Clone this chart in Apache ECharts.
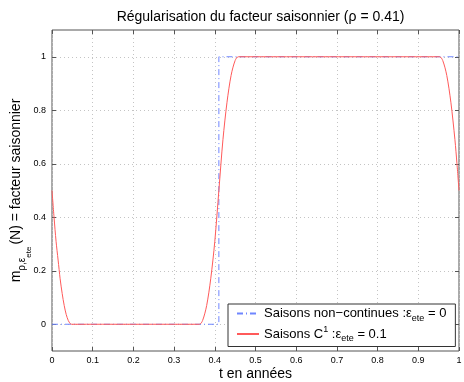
<!DOCTYPE html>
<html>
<head>
<meta charset="utf-8">
<script src="https://cdn.jsdelivr.net/npm/echarts@6/dist/echarts.min.js"></script>
<style>
  html, body { margin: 0; padding: 0; background: #fff; }
  #chart { width: 464px; height: 382px; }
</style>
</head>
<body>
<div id="chart"></div>
<script>
// discontinuous seasons (eps_ete = 0): step at rho = 0.41
const stepT = [0, 0.41, 0.41, 1]
const stepY = [0, 0, 1, 1]

// C1 seasons (eps_ete = 0.1)
const smoothT = [0, 0.005, 0.01, 0.015, 0.02, 0.025, 0.03, 0.035, 0.04, 0.045, 0.048,
  0.362, 0.37, 0.38, 0.39, 0.40, 0.41, 0.42, 0.43, 0.44, 0.45, 0.458,
  0.952, 0.96, 0.97, 0.98, 0.99, 0.995, 1]
const smoothY = [0.5, 0.4, 0.31, 0.24, 0.17, 0.115, 0.07, 0.036, 0.014, 0.002, 0,
  0, 0.014, 0.07, 0.17, 0.31, 0.5, 0.69, 0.83, 0.93, 0.986, 1,
  1, 0.986, 0.93, 0.83, 0.69, 0.6, 0.5]

const xTicks = [0, 0.1, 0.2, 0.3, 0.4, 0.5, 0.6, 0.7, 0.8, 0.9, 1]
const yTicks = [0, 0.2, 0.4, 0.6, 0.8, 1]

const font = '"Liberation Sans", Arial, sans-serif'

const chart = echarts.init(document.getElementById('chart'), null, { renderer: 'canvas' })

const gridLine = { show: true, lineStyle: { color: '#c4c4c4', type: [1, 3], width: 1 } }
const tick = { show: true, inside: true, length: 4, lineStyle: { color: '#555' } }
const noLine = { show: false, onZero: false }
const fmt = v => String(Math.round(v * 10) / 10)

chart.setOption({
  animation: false,
  title: {
    text: 'Régularisation du facteur saisonnier (ρ = 0.41)',
    left: 255.5,
    textAlign: 'center',
    top: 5,
    textStyle: { fontFamily: font, fontSize: 14, fontWeight: 'normal', color: '#000' }
  },
  grid: {
    left: 52, right: 5, top: 30, bottom: 31,
    outerBoundsMode: 'none',
    containLabel: false,
    show: true, borderColor: '#555', borderWidth: 1, backgroundColor: '#fff'
  },
  legend: {
    orient: 'vertical',
    left: 228,
    top: 304,
    backgroundColor: '#fff',
    borderColor: '#333',
    borderWidth: 1,
    borderRadius: 0,
    padding: [3, 9, 3, 8],
    itemGap: 2,
    itemWidth: 22,
    itemHeight: 10,
    itemStyle: { opacity: 0 },
    data: ['step', 'smooth'],
    formatter: function (name) {
      if (name === 'step') return '{a|Saisons non−continues :}{e|ε}{s|ete}{a| = 0}'
      return '{a|Saisons C}{p|1}{a| :}{e|ε}{s|ete}{a| = 0.1}'
    },
    textStyle: {
      fontFamily: font, fontSize: 13, color: '#000',
      rich: {
        a: { fontFamily: font, fontSize: 13, color: '#000' },
        e: { fontFamily: font, fontSize: 13, color: '#000' },
        s: { fontFamily: font, fontSize: 9, color: '#000', padding: [10, 0, 0, 0] },
        p: { fontFamily: font, fontSize: 9, color: '#000', padding: [0, 0, 9, 0] }
      }
    }
  },
  xAxis: [
    {
      type: 'value',
      min: 0, max: 1, interval: 0.1,
      name: 't en années',
      nameLocation: 'middle',
      nameGap: 16,
      nameMoveOverlap: false,
      nameTextStyle: { fontFamily: font, fontSize: 14, color: '#000' },
      axisLine: noLine,
      axisTick: tick,
      axisLabel: { fontFamily: font, fontSize: 9, color: '#000', margin: 5, formatter: fmt },
      splitLine: gridLine
    },
    {
      type: 'value',
      position: 'top',
      min: 0, max: 1, interval: 0.1,
      axisLine: noLine,
      axisTick: tick,
      axisLabel: { show: false },
      splitLine: { show: false }
    }
  ],
  yAxis: [
    {
      type: 'value',
      min: -0.1, max: 1.1,
      name: '{m|m}{s|ρ,ε}{ss|ete}{m|(N) = facteur saisonnier}',
      nameLocation: 'middle',
      nameRotate: 90,
      nameGap: 19,
      nameMoveOverlap: false,
      nameTextStyle: {
        fontFamily: font, fontSize: 14, color: '#000',
        rich: {
          m: { fontFamily: font, fontSize: 14, color: '#000' },
          s: { fontFamily: font, fontSize: 10, color: '#000', padding: [12, 0, 0, 0] },
          ss: { fontFamily: font, fontSize: 8, color: '#000', padding: [26, 2, 0, 0] }
        }
      },
      axisLine: noLine,
      axisTick: Object.assign({ customValues: yTicks }, tick),
      axisLabel: {
        fontFamily: font, fontSize: 9, color: '#000', margin: 6,
        customValues: yTicks, formatter: fmt
      },
      splitLine: gridLine
    },
    {
      type: 'value',
      position: 'right',
      min: -0.1, max: 1.1,
      axisLine: noLine,
      axisTick: Object.assign({ customValues: yTicks }, tick),
      axisLabel: { show: false, customValues: yTicks },
      splitLine: { show: false }
    }
  ],
  series: [
    {
      name: 'step',
      type: 'line',
      symbol: 'none',
      data: stepT.map((t, i) => [t, stepY[i]]),
      lineStyle: { color: '#6f86ff', width: 1, type: [6, 3, 1, 3] },
      itemStyle: { color: '#6f86ff' },
      z: 2
    },
    {
      name: 'smooth',
      type: 'line',
      symbol: 'none',
      smooth: 0.3,
      data: smoothT.map((t, i) => [t, smoothY[i]]),
      lineStyle: { color: '#ff5a5a', width: 1 },
      itemStyle: { color: '#ff5a5a' },
      z: 3
    }
  ]
})
</script>
</body>
</html>
